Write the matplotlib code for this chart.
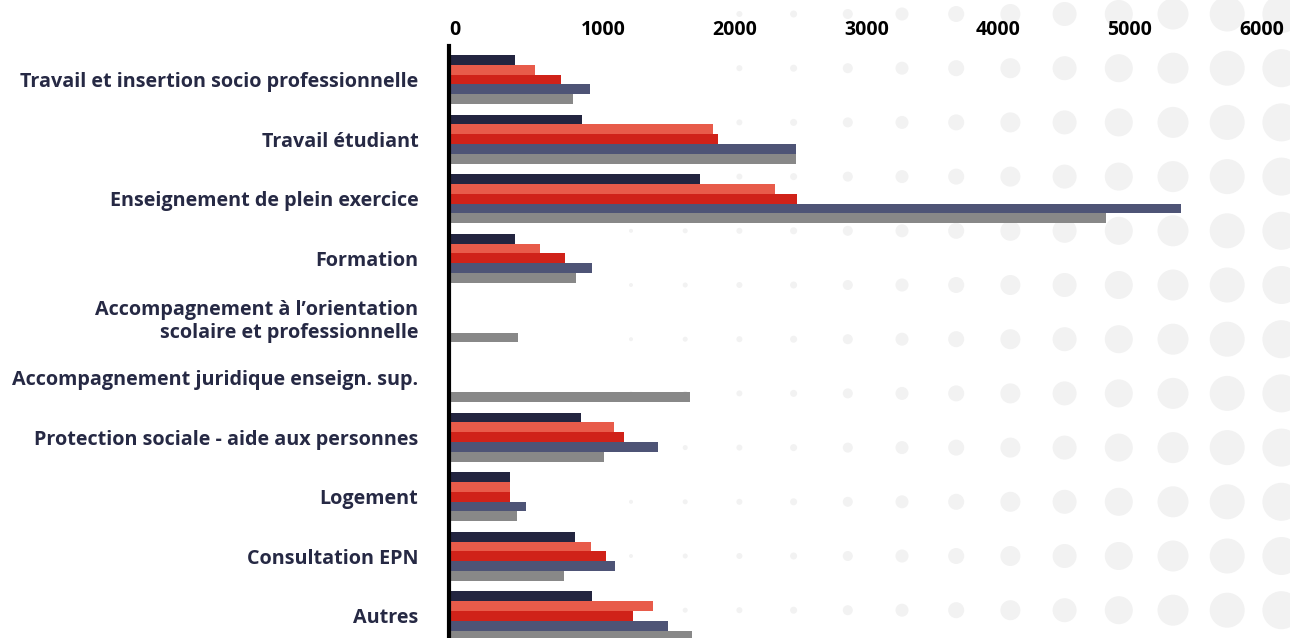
import numpy as np
import matplotlib
matplotlib.use("Agg")
import matplotlib.pyplot as plt
import matplotlib.transforms as mtransforms

# data ---------------------------------------------------------------------------
categories = [
    "Travail et insertion socio professionnelle",
    "Travail étudiant",
    "Enseignement de plein exercice",
    "Formation",
    "Accompagnement à l’orientation\nscolaire et professionnelle",
    "Accompagnement juridique enseign. sup.",
    "Protection sociale - aide aux personnes",
    "Logement",
    "Consultation EPN",
    "Autres",
]
# five series, top to bottom inside each group (no legend in the source)
serie_1 = [500, 1010, 1905, 500, 0, 0, 1000, 465, 955, 1085]
serie_2 = [655, 2005, 2475, 690, 0, 0, 1255, 465, 1080, 1550]
serie_3 = [850, 2040, 2640, 880, 0, 0, 1330, 465, 1190, 1395]
serie_4 = [1070, 2635, 5560, 1085, 0, 0, 1590, 585, 1260, 1665]
serie_5 = [940, 2635, 4990, 965, 525, 1830, 1175, 515, 875, 1845]
series = [serie_1, serie_2, serie_3, serie_4, serie_5]
colors = ["#232540", "#e85b4a", "#d02219", "#4e5476", "#888888"]
xticks = [0, 1000, 2000, 3000, 4000, 5000, 6000]

LABEL_COLOR = "#262944"

# figure ---------------------------------------------------------------------------
W, H = 1290, 638
fig = plt.figure(figsize=(W / 100, H / 100), dpi=100)

# decorative dot pattern in the background
bg = fig.add_axes([0, 0, 1, 1], zorder=0)
bg.set_xlim(0, W)
bg.set_ylim(H, 0)
bg.axis("off")
dot_radius = [2, 2.5, 3, 3.5, 5, 6.5, 8, 10, 12, 14, 15.5, 17.5, 19]
for k, r in enumerate(dot_radius):
    cx = 631 + 54.2 * k
    for row in range(12):
        cy = 14 + 54.2 * row
        # the tiny dots fade out towards the top left corner
        if cx < 700 and row < 4:
            continue
        bg.add_patch(plt.Circle((cx, cy), r, color="#f2f2f2", lw=0))

# main axes
left, top = 449, 46
ax = fig.add_axes([left / W, 0, 1 - left / W, 1 - top / H], zorder=1)
ax.patch.set_alpha(0)

n = len(categories)
y = np.arange(n)
h = 0.1644
for j, (vals, c) in enumerate(zip(series, colors)):
    ax.barh(y + (j - 2) * h, vals, height=h, color=c, linewidth=0, zorder=2)

ax.set_xlim(0, (W - left) / 0.1317)
ax.set_ylim(9.37, -0.562)

# x axis on top, bold labels left aligned to the tick
ax.xaxis.tick_top()
ax.set_xticks(xticks)
ax.set_xticklabels([str(t) for t in xticks], fontsize=14, fontweight="bold",
                   family="Open Sans", color="black")
offset = mtransforms.ScaledTranslation(-5 / 100, 0, fig.dpi_scale_trans)
for lab in ax.get_xticklabels():
    lab.set_ha("left")
    lab.set_transform(lab.get_transform() + offset)
ax.tick_params(axis="x", length=0, pad=4)

ax.set_yticks(y)
ax.set_yticklabels(categories, fontsize=14.2, fontweight="bold",
                   family="Open Sans", color=LABEL_COLOR, linespacing=1.16)
ax.tick_params(axis="y", length=0, pad=22)

for s in ["top", "right", "bottom"]:
    ax.spines[s].set_visible(False)
ax.spines["left"].set_linewidth(3)
ax.spines["left"].set_color("black")
ax.spines["left"].set_zorder(3)

fig.savefig("out.png", dpi=100)
